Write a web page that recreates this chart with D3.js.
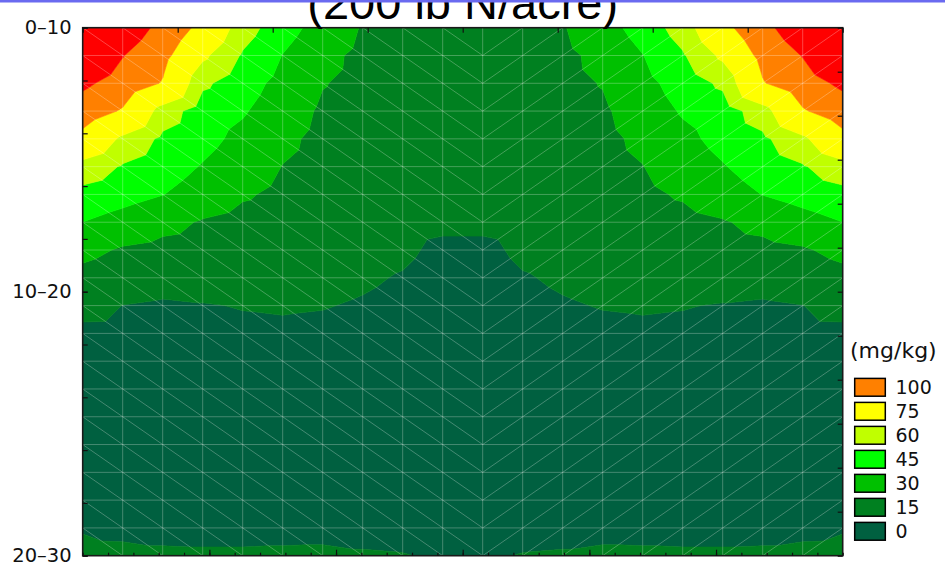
<!DOCTYPE html>
<html>
<head>
<meta charset="utf-8">
<script src="https://cdn.jsdelivr.net/npm/d3@7"></script>
<style>
  body { margin: 0; background: #ffffff; }
  svg { display: block; }
</style>
</head>
<body>
<div id="chart"></div>
<script>
// Soil nitrate (mg/kg) across the row (0–30) and down three depth layers.
const titleText = "(200 lb N/acre)";
const unitLabel = "(mg/kg)";
const depthLabels = ["0–10", "10–20", "20–30"];
const legendLevels = [100, 75, 60, 45, 30, 15, 0];
const bandLevels = [15, 30, 45, 60, 75, 100, 125];
const bandColors = ["#006040", "#008020", "#00c000", "#00ff00", "#c0ff00", "#ffff00", "#ff8000", "#ff0000"];

// Nitrate at each mesh node: one row per depth step (top to bottom), 20 nodes across.
const no3Grid = [
  [165, 141, 118, 93, 67, 51, 39, 29, 26.5, 25.5, 25.5, 26.5, 29, 39, 51, 67, 93, 118, 141, 165],
  [150, 126, 106, 78.4, 58.4, 44.6, 33.5, 27, 25.5, 24.5, 24.5, 25.5, 27, 33.5, 44.6, 58.4, 78.4, 106, 126, 150],
  [130, 114, 98.5, 63, 51.1, 40.6, 30.6, 26.5, 25, 24.3, 24.3, 25, 26.5, 30.6, 40.6, 51.1, 63, 98.5, 114, 130],
  [112.4, 97.8, 68.1, 52, 46.4, 36.9, 28, 25.5, 24.2, 23.5, 23.5, 24.2, 25.5, 28, 36.9, 46.4, 52, 68.1, 97.8, 112.4],
  [92.9, 71.7, 57, 49.3, 41.3, 33, 26.5, 24.5, 23, 22.3, 22.3, 23, 24.5, 26.5, 33, 41.3, 49.3, 57, 71.7, 92.9],
  [69.2, 58.6, 51.4, 44.1, 36.9, 29.7, 25.5, 23.5, 22.3, 21.8, 21.8, 22.3, 23.5, 25.5, 29.7, 36.9, 44.1, 51.4, 58.6, 69.2],
  [55.3, 50.3, 45.3, 38.5, 31.6, 27, 24.3, 22.5, 21.3, 20.8, 20.8, 21.3, 22.5, 24.3, 27, 31.6, 38.5, 45.3, 50.3, 55.3],
  [44.9, 39.5, 34.1, 28.8, 25.5, 23.5, 22, 20.5, 19, 17.5, 17.5, 19, 20.5, 22, 23.5, 25.5, 28.8, 34.1, 39.5, 44.9],
  [33.9, 28.5, 26.1, 24.4, 23.1, 21.4, 19.8, 18.4, 17, 12.5, 12.5, 17, 18.4, 19.8, 21.4, 23.1, 24.4, 26.1, 28.5, 33.9],
  [25.7, 21.7, 19.8, 19.5, 19.2, 18.6, 17.6, 16.3, 14.3, 10.5, 10.5, 14.3, 16.3, 17.6, 18.6, 19.2, 19.5, 19.8, 21.7, 25.7],
  [19, 14.85, 13.5, 14.5, 15.4, 15.8, 15.4, 14.2, 12.5, 9.5, 9.5, 12.5, 14.2, 15.4, 15.8, 15.4, 14.5, 13.5, 14.85, 19],
  [12.2, 12, 11.5, 12.5, 13.2, 13.5, 13, 12, 10.5, 8, 8, 10.5, 12, 13, 13.5, 13.2, 12.5, 11.5, 12, 12.2],
  [10.5, 10.3, 10, 10.5, 11, 11.3, 11, 10, 9, 7, 7, 9, 10, 11, 11.3, 11, 10.5, 10, 10.3, 10.5],
  [9.5, 9.3, 9, 9.2, 9.6, 10, 9.7, 9, 8, 6, 6, 8, 9, 9.7, 10, 9.6, 9.2, 9, 9.3, 9.5],
  [9, 8.8, 8.5, 8.5, 9, 9.2, 9, 8.5, 7.5, 5.5, 5.5, 7.5, 8.5, 9, 9.2, 9, 8.5, 8.5, 8.8, 9],
  [9, 8.8, 8.5, 8.4, 8.8, 9.2, 9, 8.5, 7.5, 5.5, 5.5, 7.5, 8.5, 9, 9.2, 8.8, 8.4, 8.5, 8.8, 9],
  [9.5, 9.3, 9, 8.8, 9.2, 9.6, 9.5, 9, 8, 6, 6, 8, 9, 9.5, 9.6, 9.2, 8.8, 9, 9.3, 9.5],
  [11, 10.8, 10.5, 10.3, 10.5, 11, 11, 10.5, 9.5, 7.5, 7.5, 9.5, 10.5, 11, 11, 10.5, 10.3, 10.5, 10.8, 11],
  [13.2, 13, 13, 13, 13, 13, 13, 13, 12.5, 10, 10, 12.5, 13, 13, 13, 13, 13, 13, 13, 13.2],
  [21.5, 17, 16.1, 15.9, 15.9, 16.1, 16.3, 15.6, 15.3, 14.2, 14.2, 15.3, 15.6, 16.3, 16.1, 15.9, 15.9, 16.1, 17, 21.5]
];

const W = 945, H = 574;
const plot = { left: 82.7, right: 842.7, top: 27.7, bottom: 555.7 };

const svg = d3.select("#chart").append("svg")
  .attr("width", W).attr("height", H)
  .attr("viewBox", `0 0 ${W} ${H}`);

const x = d3.scaleLinear().domain([0, 30]).range([plot.left, plot.right]);
const y = d3.scaleLinear().domain([0, 2]).range([plot.top, plot.bottom]);
const color = d3.scaleThreshold().domain(bandLevels).range(bandColors);

const nRows = no3Grid.length, nCols = no3Grid[0].length;
const colPos = d3.range(nCols).map(i => i * 30 / (nCols - 1));
const rowPos = d3.range(nRows).map(j => j * 2 / (nRows - 1));
const splitCol = 10; // mesh diagonals flip direction from this column on

const node = (i, j) => ({ px: x(colPos[i]), py: y(rowPos[j]), v: no3Grid[j][i] });

// Clip a polygon against one contour level (keep the part above or below it).
function clip(poly, level, keepAbove) {
  const out = [];
  for (let k = 0; k < poly.length; k++) {
    const a = poly[k], b = poly[(k + 1) % poly.length];
    const ain = keepAbove ? a.v >= level : a.v <= level;
    const bin = keepAbove ? b.v >= level : b.v <= level;
    if (ain) out.push(a);
    if (ain !== bin) {
      const t = (level - a.v) / (b.v - a.v);
      out.push({ px: a.px + t * (b.px - a.px), py: a.py + t * (b.py - a.py), v: level });
    }
  }
  return out;
}

// Triangulate the mesh.
const triangles = [];
for (let j = 0; j < nRows - 1; j++) {
  for (let i = 0; i < nCols - 1; i++) {
    const TL = node(i, j), TR = node(i + 1, j), BL = node(i, j + 1), BR = node(i + 1, j + 1);
    if (i < splitCol) {
      triangles.push([TL, TR, BR], [TL, BR, BL]);
    } else {
      triangles.push([TL, TR, BL], [TR, BR, BL]);
    }
  }
}

// Filled contour bands.
const lows = [-Infinity, ...bandLevels];
const highs = [...bandLevels, Infinity];
const bandPaths = bandColors.map(() => d3.path());
triangles.forEach(tri => {
  for (let k = 0; k < bandColors.length; k++) {
    let p = tri;
    if (isFinite(lows[k])) p = clip(p, lows[k], true);
    if (p.length >= 3 && isFinite(highs[k])) p = clip(p, highs[k], false);
    if (p.length >= 3) {
      const path = bandPaths[k];
      path.moveTo(p[0].px, p[0].py);
      for (let m = 1; m < p.length; m++) path.lineTo(p[m].px, p[m].py);
      path.closePath();
    }
  }
});

svg.append("defs").append("clipPath").attr("id", "plot-clip")
  .append("rect")
  .attr("x", plot.left).attr("y", plot.top)
  .attr("width", plot.right - plot.left).attr("height", plot.bottom - plot.top);

const field = svg.append("g").attr("clip-path", "url(#plot-clip)");
field.selectAll("path.band")
  .data(bandPaths)
  .join("path")
  .attr("class", "band")
  .attr("d", p => p.toString())
  .attr("fill", (p, k) => color(k === 0 ? 0 : bandLevels[k - 1]))
  .attr("stroke", (p, k) => color(k === 0 ? 0 : bandLevels[k - 1]))
  .attr("stroke-width", 0.6)
  .attr("stroke-linejoin", "round");

// Mesh lines.
const mesh = d3.path();
for (let i = 1; i < nCols - 1; i++) {
  mesh.moveTo(x(colPos[i]), plot.top); mesh.lineTo(x(colPos[i]), plot.bottom);
}
for (let j = 1; j < nRows - 1; j++) {
  mesh.moveTo(plot.left, y(rowPos[j])); mesh.lineTo(plot.right, y(rowPos[j]));
}
for (let j = 0; j < nRows - 1; j++) {
  for (let i = 0; i < nCols - 1; i++) {
    if (i < splitCol) {
      mesh.moveTo(x(colPos[i]), y(rowPos[j])); mesh.lineTo(x(colPos[i + 1]), y(rowPos[j + 1]));
    } else {
      mesh.moveTo(x(colPos[i + 1]), y(rowPos[j])); mesh.lineTo(x(colPos[i]), y(rowPos[j + 1]));
    }
  }
}
field.append("path")
  .attr("d", mesh.toString())
  .attr("fill", "none")
  .attr("stroke", "#ffffff")
  .attr("stroke-opacity", 0.27)
  .attr("stroke-width", 1);

// Frame.
svg.append("rect")
  .attr("x", plot.left).attr("y", plot.top)
  .attr("width", plot.right - plot.left).attr("height", plot.bottom - plot.top)
  .attr("fill", "none").attr("stroke", "#1a1a1a").attr("stroke-width", 1.6);

// Axes (ticks point inward).
function styleAxis(g) {
  g.select(".domain").remove();
  g.selectAll(".tick line").attr("stroke", "#111").attr("stroke-width", 1.2);
  g.attr("font-family", "'DejaVu Sans', Verdana, sans-serif").attr("font-size", 19.5);
  g.selectAll(".tick text").attr("fill", "#111");
}

svg.append("g")
  .attr("transform", `translate(${plot.left},0)`)
  .call(d3.axisLeft(y).tickValues([0, 1, 2]).tickFormat(d => depthLabels[d]).tickSize(-5).tickPadding(11))
  .call(styleAxis);

svg.append("g")
  .attr("transform", `translate(${plot.left},0)`)
  .call(d3.axisLeft(y).tickValues(d3.range(0, 2.0001, 0.2)).tickFormat("").tickSize(-5))
  .call(styleAxis);

svg.append("g")
  .attr("transform", `translate(${plot.right},0)`)
  .call(d3.axisRight(y).tickValues(d3.range(0, 2.0001, 1 / 6)).tickFormat("").tickSize(-5))
  .call(styleAxis);

svg.append("g")
  .attr("transform", `translate(0,${plot.top})`)
  .call(d3.axisTop(x).tickValues(d3.range(0, 30.001, 3.75)).tickFormat("").tickSize(-5))
  .call(styleAxis);

svg.append("g")
  .attr("transform", `translate(0,${plot.bottom})`)
  .call(d3.axisBottom(x).tickValues(d3.range(0, 30.001, 1)).tickFormat("").tickSize(-3))
  .call(styleAxis);

svg.append("g")
  .attr("transform", `translate(0,${plot.bottom})`)
  .call(d3.axisBottom(x).tickValues([5, 10, 15, 20, 25]).tickFormat("").tickSize(-6))
  .call(styleAxis);

// Legend.
const legend = svg.append("g").attr("font-family", "'DejaVu Sans', Verdana, sans-serif");
legend.append("text")
  .attr("x", 850).attr("y", 358)
  .attr("font-size", 22).attr("fill", "#111")
  .text(unitLabel);

const legendY = d3.scaleBand().domain(legendLevels).range([377.7, 377.7 + 24 * legendLevels.length]);
const items = legend.selectAll("g.item").data(legendLevels).join("g").attr("class", "item");
items.append("rect")
  .attr("x", 854.7).attr("y", d => legendY(d) + 0.7)
  .attr("width", 30.6).attr("height", 17.8)
  .attr("fill", d => color(d))
  .attr("stroke", "#000").attr("stroke-width", 1.5);
items.append("text")
  .attr("x", 895.5).attr("y", d => legendY(d) + 9.6)
  .attr("dy", "0.36em")
  .attr("font-size", 19).attr("fill", "#111")
  .text(d => d);

// Title and top rule.
svg.append("text")
  .attr("x", x(15)).attr("y", 19)
  .attr("text-anchor", "middle")
  .attr("font-family", "'Liberation Sans', Arial, sans-serif")
  .attr("font-size", 47).attr("fill", "#000")
  .text(titleText);

svg.append("rect")
  .attr("x", 0).attr("y", 0).attr("width", W).attr("height", 2.5)
  .attr("fill", "#6a6af0");
</script>
</body>
</html>
